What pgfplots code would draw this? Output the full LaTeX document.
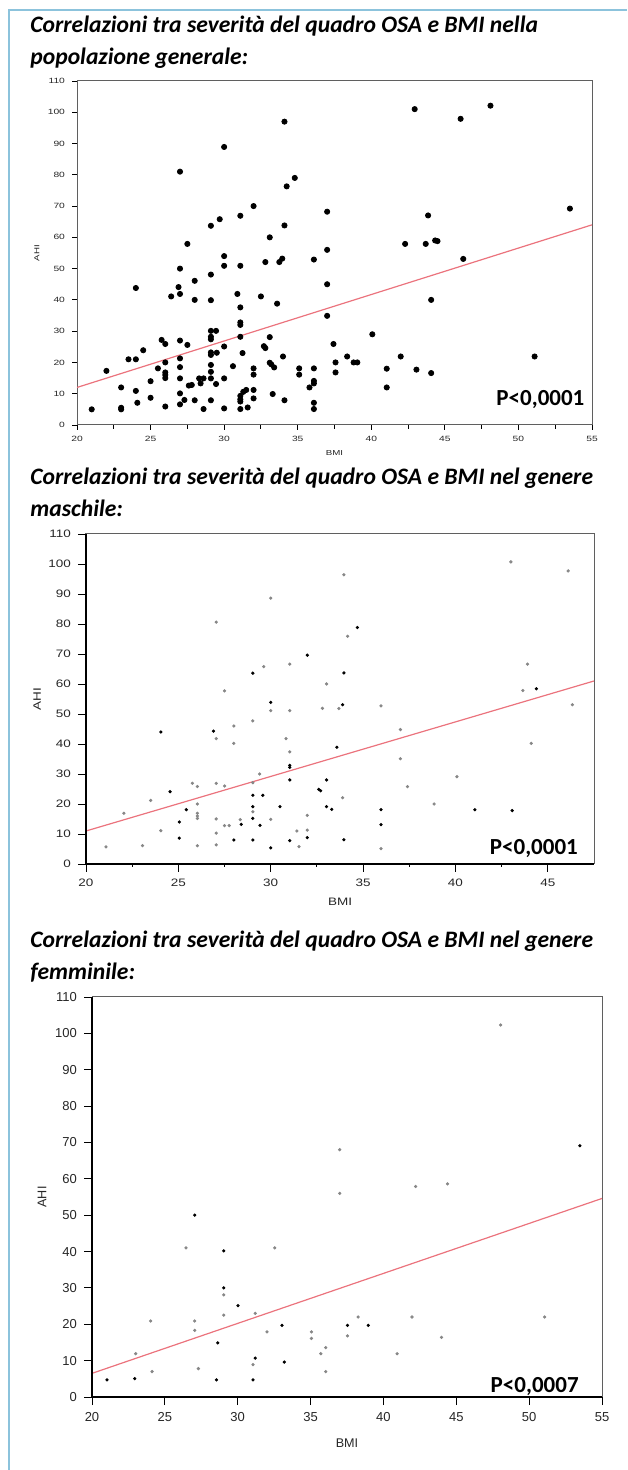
\documentclass[border=0pt]{standalone}
\usepackage{fontspec}
\setmainfont{Carlito}
\newfontfamily\arialA[FakeStretch=1.35]{Liberation Sans}
\newfontfamily\arialB[FakeStretch=1.25]{Liberation Sans}
\newfontfamily\arialC{Liberation Sans}
\usepackage{pgfplots}
\pgfplotsset{compat=1.18}
\definecolor{regred}{RGB}{235,115,125}
\definecolor{bordercol}{RGB}{140,195,220}
\definecolor{dotgray}{RGB}{135,135,135}
\definecolor{axgray}{RGB}{95,95,95}
\pgfplotsset{
  panel/.style={scale only axis, anchor=south west, xmin=20, ymin=0, ymax=110,
    ytick={0,10,...,110}, tick align=outside, tick pos=left,
    /pgf/number format/assume math mode=true,
    axis line style={axgray, line width=0.5pt},
    every tick/.style={black, line width=0.45pt},
    clip=false},
}
\newcommand{\titlefont}{\bfseries\itshape\fontsize{11.8}{13}\selectfont}
\newcommand{\pfont}{\bfseries\fontsize{11.5}{12}\selectfont}
\begin{document}
\begin{tikzpicture}
\path[use as bounding box] (0,0) rectangle (313.5pt,735pt);
\draw[bordercol, line width=0.7pt] (4.5pt,0) -- (4.5pt,730pt) -- (313.5pt,730pt);
% ---------- titles
\node[anchor=base west, inner sep=0, font=\titlefont] at (15pt,718.5pt) {Correlazioni tra severità del quadro OSA e BMI nella};
\node[anchor=base west, inner sep=0, font=\titlefont] at (15pt,702.5pt) {popolazione generale:};
\node[anchor=base west, inner sep=0, font=\titlefont] at (15pt,492.5pt) {Correlazioni tra severità del quadro OSA e BMI nel genere};
\node[anchor=base west, inner sep=0, font=\titlefont] at (15pt,476.5pt) {maschile:};
\node[anchor=base west, inner sep=0, font=\titlefont] at (15pt,261pt) {Correlazioni tra severità del quadro OSA e BMI nel genere};
\node[anchor=base west, inner sep=0, font=\titlefont] at (15pt,245pt) {femminile:};

% ---------- panel 1: general population
\begin{axis}[panel, at={(38.5pt,522.5pt)}, width=257.5pt, height=172pt,
  xmax=55, xtick={20,25,...,55}, minor xtick={22.5,27.5,...,52.5},
  major tick length=2.5pt, minor tick length=1.8pt,
  tick label style={font=\arialA\fontsize{3.8}{4}\selectfont, text=black!85},
  xlabel={BMI}, ylabel={AHI},
  label style={font=\arialA\fontsize{3.6}{4}\selectfont, text=black!85},
  xlabel style={at={(axis description cs:0.5,-0.081)}, anchor=center},
  ylabel style={at={(axis description cs:-0.078,0.5)}, anchor=center},
  xticklabel style={yshift=0.5pt},
]
\addplot[regred, line width=0.6pt] coordinates {(20,12) (55,64)};
\addplot[only marks, mark=*, mark size=1.3pt, black] table {
21 5
22 17.3
23 12
23 5.5
23 5
23.5 21
24 21
24 43.8
24 10.9
24.1 7.1
24.5 23.9
25 14
25 8.7
25.5 18.1
25.75 27.2
26 25.9
26 20
26 16.8
26 16
26 15
26 5.9
26.4 41.1
26.9 44.1
27 81
27 50
27 41.9
27 27
27 21.3
27 18.5
27 14.9
27 10.1
27 6.6
27.3 8
27.5 57.9
27.5 25.6
27.6 12.6
27.8 12.8
28 46.1
28 40
28 7.9
28.3 14.9
28.6 14.9
28.4 13.3
28.6 5.1
29.1 63.7
29.1 48.1
29.1 39.9
29.1 30.1
29.1 28.2
29.1 27.4
29.45 30.1
29.1 23.2
29.1 22.4
29.1 19.2
29.1 17
29.1 14.9
29.1 7.9
29.5 23.1
29.45 13.1
29.7 65.8
30 88.9
30 54
30 50.9
30 25.1
30 14.9
30 5.3
30.6 18.8
30.9 41.9
31.1 66.9
31.1 50.9
31.1 37.6
31.1 32.8
31.1 32
31.1 28.2
31.1 9.3
31.1 8.2
31.1 7.5
31.1 5.1
31.25 23
31.3 10.6
31.5 11.2
31.6 5.6
32 70
32 18.1
32 16.1
32 11.2
32 8.5
32.5 41.1
32.7 25.2
32.8 24.6
32.8 52.1
33.1 60
33.1 28.1
33.1 19.9
33.2 19.4
33.4 18.4
33.3 9.9
33.6 38.8
33.75 52.1
33.95 53.2
34 21.9
34.1 97
34.1 63.8
34.1 7.9
34.25 76.3
34.8 79
35.1 18.1
35.1 16.1
35.8 12
36.1 52.9
36.1 18.1
36.1 14.1
36.1 13.3
36.1 7.1
36.1 5.1
37 68.2
37 56
37 45
37 34.9
37.43 25.9
37.57 20
37.57 16.8
38.36 21.9
38.8 20
39.05 20
40.07 29
41.05 18
41.05 12
42 21.9
42.3 57.9
42.95 101
43.07 17.7
43.7 57.9
43.86 67
44.07 40
44.07 16.6
44.34 59
44.5 58.8
46.07 97.9
46.25 53.1
48.1 102.1
51.1 21.9
53.5 69.2
};
\node[anchor=base east, inner sep=0, font=\pfont] at (rel axis cs:0.986,0.058) {P<0,0001};
\end{axis}

% ---------- panel 2: male
\begin{axis}[panel, at={(43pt,303pt)}, width=254pt, height=165pt,
  xmax=47.5, xtick={20,25,...,45}, minor xtick={22.5,27.5,...,42.5},
  major tick length=4pt, minor tick length=1.5pt,
  tick label style={font=\arialB\fontsize{5.4}{6}\selectfont, text=black!85},
  xlabel={BMI}, ylabel={AHI},
  label style={font=\arialB\fontsize{5.4}{6}\selectfont, text=black!85},
  xlabel style={at={(axis description cs:0.5,-0.115)}, anchor=center},
  ylabel style={at={(axis description cs:-0.096,0.5)}, anchor=center},
  after end axis/.code={\draw[black, line width=0.9pt] (rel axis cs:0,1) -- (rel axis cs:0,0) -- (rel axis cs:1,0);},
]
\addplot[regred, line width=0.6pt] coordinates {(20,11) (47.5,61)};
\addplot[only marks, mark=*, mark size=0.6pt, dotgray] table {
21.08 5.7
22.05 16.9
23.06 6.1
23.5 21.2
24.05 11.1
25.76 26.9
26.03 25.8
26.03 20
26.03 16.9
26.03 16
26.03 15.2
26.03 6.1
27.05 80.6
27.05 41.8
27.05 26.9
27.05 15
27.05 10.3
27.05 6.4
27.5 57.7
27.5 26
27.5 12.8
27.75 12.8
28 46
28 40.2
28.35 14.8
29.03 47.7
29.03 27.1
29.03 17.4
29.4 30
29.62 65.8
30 88.6
30 51.1
30 14.9
30.83 41.8
31.03 66.6
31.03 51.1
31.03 37.4
31.42 11
31.53 5.8
31.98 16.2
31.98 11.3
32.8 51.9
33.02 60
33.69 51.8
33.89 22.1
33.96 96.4
34.16 75.9
35.97 52.7
35.97 5.1
37.02 44.8
37.02 35.1
37.4 25.8
38.84 20
40.08 29.1
43 100.7
43.65 57.8
43.9 66.6
44.1 40.2
46.1 97.7
46.33 53.1
};
\addplot[only marks, mark=*, mark size=0.6pt, black] table {
24.05 44
24.55 24.1
25.05 14
25.05 8.6
25.43 18.1
26.9 44.3
28 8
28.4 13.2
29.03 63.6
29.03 22.9
29.03 19.1
29.03 15.2
29.03 8
29.42 12.9
29.57 22.9
30 53.9
30 5.4
30.5 19.1
31.03 32.9
31.03 32.2
31.03 28
31.03 7.8
31.98 69.6
31.98 8.8
32.6 24.9
32.7 24.4
33.02 28
33.02 19.1
33.3 18.2
33.58 38.9
33.89 53.1
33.96 63.7
33.96 8.1
34.69 78.8
35.97 18.1
35.97 13.1
41.05 18.1
43.07 17.8
44.38 58.4
};
\node[anchor=base east, inner sep=0, font=\pfont] at (rel axis cs:0.969,0.03) {P<0,0001};
\end{axis}

% ---------- panel 3: female
\begin{axis}[panel, at={(46pt,36.5pt)}, width=255pt, height=200pt,
  xmax=55, xtick={20,25,...,55},
  major tick length=4pt,
  tick label style={font=\arialC\fontsize{6.5}{7}\selectfont, text=black!85},
  xlabel={BMI}, ylabel={AHI},
  label style={font=\arialC\fontsize{6.3}{7}\selectfont, text=black!85},
  xlabel style={at={(axis description cs:0.5,-0.115)}, anchor=center},
  ylabel style={at={(axis description cs:-0.098,0.5)}, anchor=center},
  after end axis/.code={\draw[black, line width=0.9pt] (rel axis cs:0,1) -- (rel axis cs:0,0) -- (rel axis cs:1,0);},
]
\addplot[regred, line width=0.6pt] coordinates {(20,6.5) (55,54.6)};
\addplot[only marks, mark=*, mark size=0.6pt, dotgray] table {
23 11.9
24.03 20.9
24.12 7
26.45 41
27.05 20.9
27.05 18.3
27.3 7.8
29.04 28.1
29.04 22.5
31.05 8.9
31.2 23
32.01 17.9
32.54 41
35.06 17.9
35.06 16.1
35.7 11.9
36.04 13.6
36.04 7
37 68
37 56
37.53 16.8
38.27 22
40.94 11.9
41.96 22
42.21 57.9
43.99 16.4
44.4 58.6
48.04 102.3
51.06 22
};
\addplot[only marks, mark=*, mark size=0.6pt, black] table {
21.03 4.7
22.93 5.05
27.05 50
28.54 4.7
28.63 14.9
29.04 40.2
29.04 30
30.02 25.1
31.05 4.7
31.2 10.7
33.04 19.7
33.2 9.6
37.53 19.7
38.96 19.7
53.48 69.1
};
\node[anchor=base east, inner sep=0, font=\pfont] at (rel axis cs:0.955,0.0125) {P<0,0007};
\end{axis}
\end{tikzpicture}
\end{document}
